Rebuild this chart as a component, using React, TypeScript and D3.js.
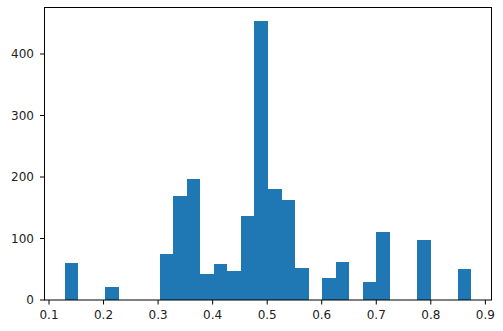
import * as d3 from "d3";

// histogram: 30 equal bins between the smallest and largest sample
const binMin = 0.129;
const binMax = 0.874;
const counts = [60, 0, 0, 21, 0, 0, 0, 75, 169, 197, 42, 58, 47, 136, 453, 180, 163, 52, 0, 36, 62, 0, 29, 110, 0, 0, 97, 0, 0, 51];
const xTicks = [0.1, 0.2, 0.3, 0.4, 0.5, 0.6, 0.7, 0.8, 0.9];
const yTicks = [0, 100, 200, 300, 400];

const width = 503;
const height = 331;
const margin = { top: 7.5, right: 11.5, bottom: 31, left: 44.5 };

export default function App() {
  const span = binMax - binMin;
  const binWidth = span / counts.length;
  const bins = counts.map((c, i) => ({
    x0: binMin + i * binWidth,
    x1: binMin + (i + 1) * binWidth,
    count: c,
  }));

  const x = d3.scaleLinear()
    .domain([binMin - 0.05 * span, binMax + 0.05 * span])
    .range([margin.left, width - margin.right]);
  const y = d3.scaleLinear()
    .domain([0, (d3.max(counts) as number) * 1.05])
    .range([height - margin.bottom, margin.top]);

  const bottom = height - margin.bottom;
  const fmt = d3.format(".1f");

  return (
    <svg
      width={width}
      height={height}
      style={{ position: "fixed", left: 0, top: 0, background: "#fff" }}
      fontFamily="DejaVu Sans, sans-serif"
      fontSize={12}
    >
      <rect x={0} y={0} width={width} height={height} fill="#fff" />
      {/* bars: crisp edges so neighbouring bins merge without seams */}
      {bins.filter(b => b.count > 0).map((b, i) => (
        <rect
          key={i}
          x={x(b.x0)}
          y={y(b.count)}
          width={x(b.x1) - x(b.x0)}
          height={bottom - y(b.count)}
          fill="#1f77b4"
          shapeRendering="crispEdges"
        />
      ))}

      {/* frame */}
      <rect
        x={margin.left}
        y={margin.top}
        width={width - margin.left - margin.right}
        height={bottom - margin.top}
        fill="none"
        stroke="#000"
        strokeWidth={1}
      />

      {/* x axis */}
      {xTicks.map(t => (
        <g key={t}>
          <line x1={x(t)} x2={x(t)} y1={bottom} y2={bottom + 4.5} stroke="#000" strokeWidth={1} />
          <text x={x(t)} y={bottom + 19} textAnchor="middle" fill="#222">{fmt(t)}</text>
        </g>
      ))}

      {/* y axis */}
      {yTicks.map(t => (
        <g key={t}>
          <line x1={margin.left - 4.5} x2={margin.left} y1={y(t)} y2={y(t)} stroke="#000" strokeWidth={1} />
          <text x={margin.left - 10.5} y={y(t)} dy="0.36em" textAnchor="end" fill="#222">{t}</text>
        </g>
      ))}
    </svg>
  );
}
